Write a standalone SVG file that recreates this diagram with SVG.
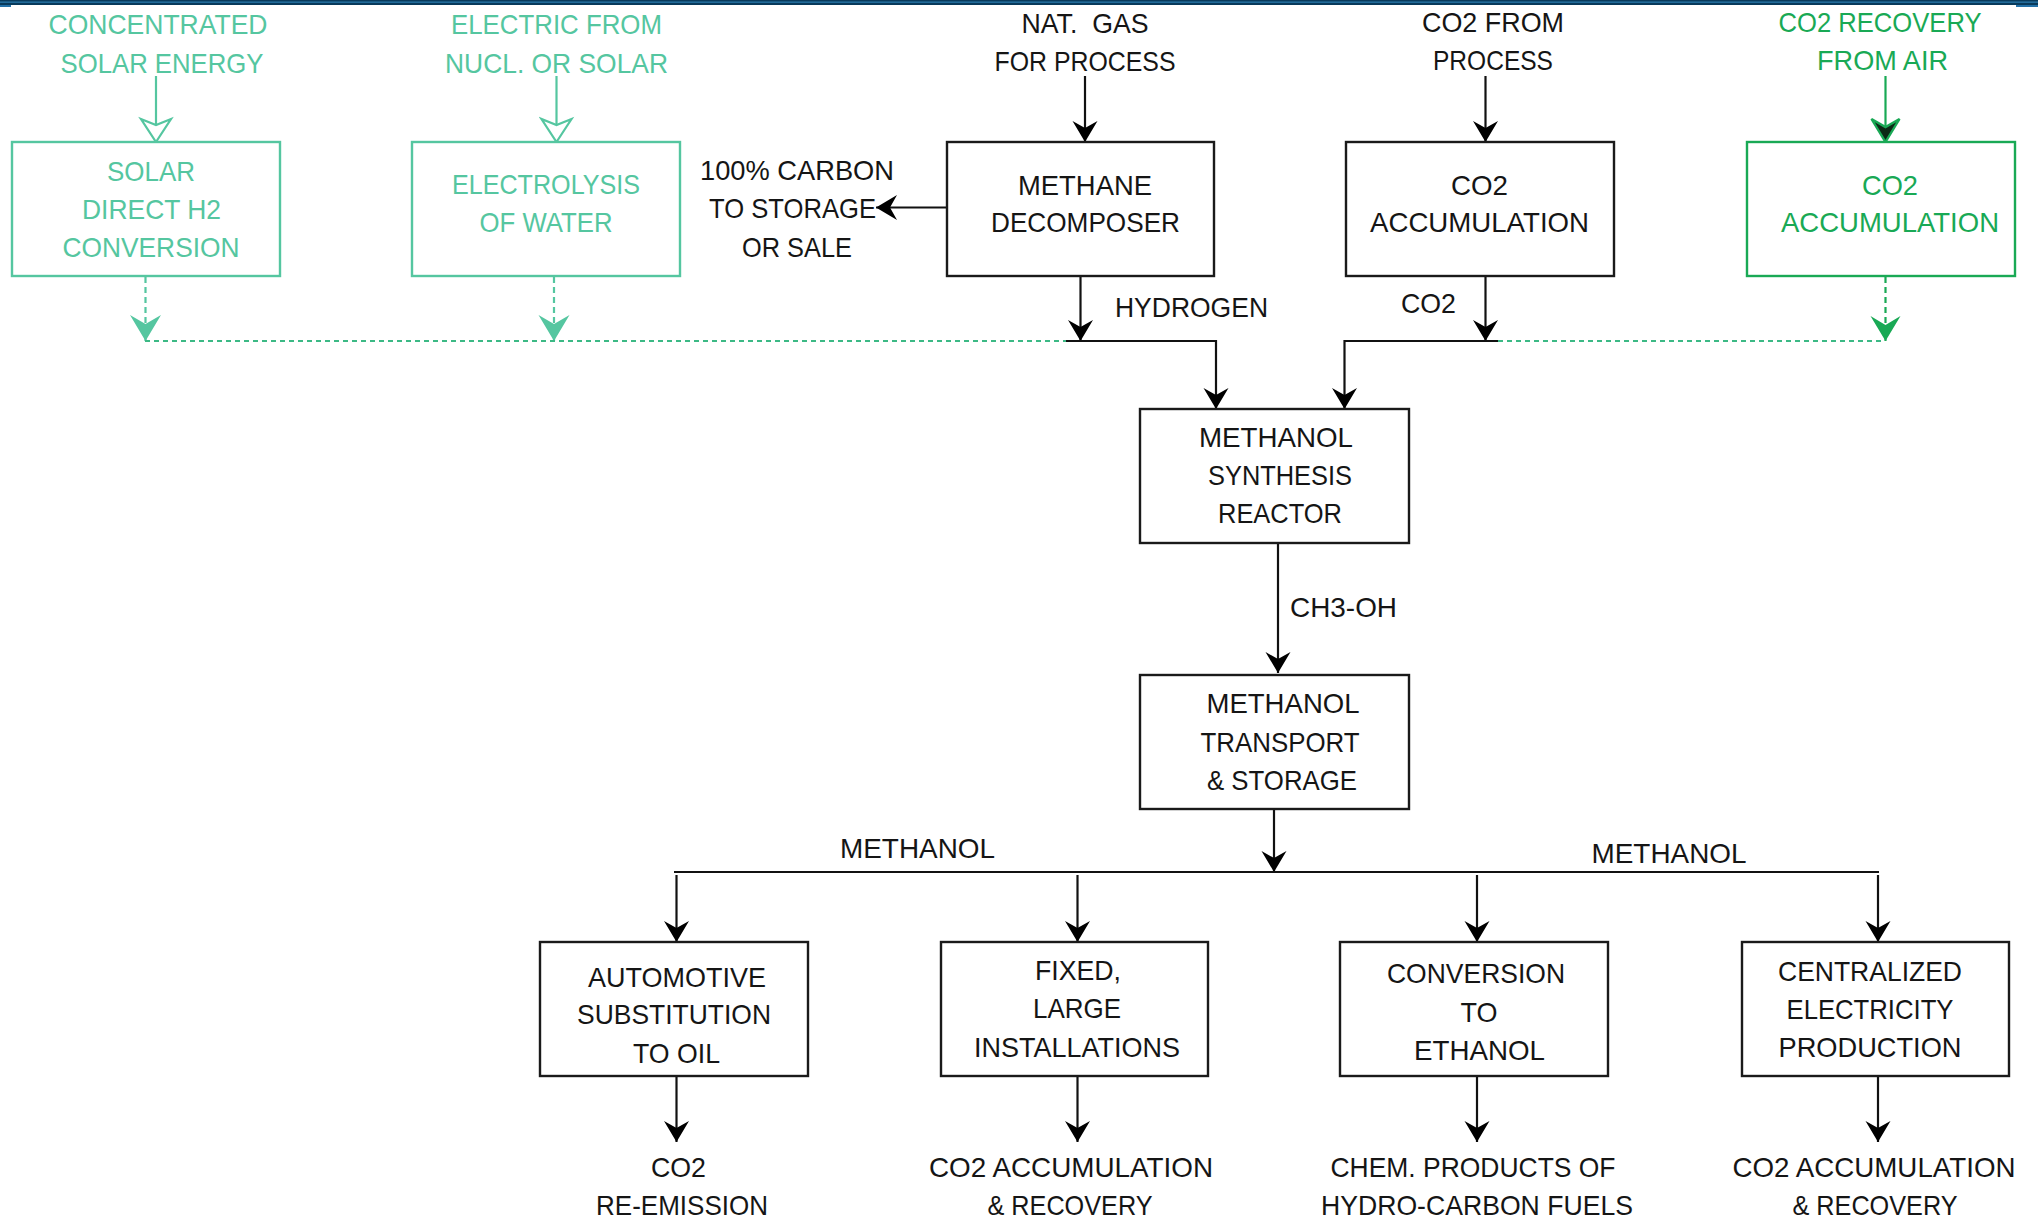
<svg xmlns="http://www.w3.org/2000/svg" width="2038" height="1220" viewBox="0 0 2038 1220">
<style>
.t{font-family:"Liberation Sans",Arial,sans-serif;font-size:28px;fill:#151515;text-anchor:middle}
.s{text-anchor:start}
.tt{fill:#55c6a0}
.tg{fill:#19a955}
.box{fill:#fff;stroke:#1a1a1a;stroke-width:2.4}
.bt{stroke:#55c6a0}
.bg{stroke:#19a955}
.ln{fill:none;stroke:#111;stroke-width:2.2}
.lt{stroke:#55c6a0}
.lg{stroke:#19a955}
.dot{stroke:#3cb985;stroke-dasharray:5 4}
.dsh{stroke-dasharray:6 4}
</style>
<defs>
<marker id="ah" viewBox="-22 -14 24 28" refX="0" refY="0" markerWidth="24" markerHeight="28" markerUnits="userSpaceOnUse" orient="auto">
<path d="M0,0 L-21,-12.5 L-14,0 L-21,12.5 Z" fill="#000"/>
</marker>
<marker id="ao" viewBox="-26 -18 28 36" refX="0" refY="0" markerWidth="28" markerHeight="36" markerUnits="userSpaceOnUse" orient="auto">
<path d="M0,0 L-23,-15 L-17,0 L-23,15 Z" fill="#fff" stroke="#55c6a0" stroke-width="2.2" stroke-linejoin="miter"/>
</marker>
<marker id="at" viewBox="-28 -18 30 36" refX="0" refY="0" markerWidth="30" markerHeight="36" markerUnits="userSpaceOnUse" orient="auto">
<path d="M0,0 L-26,-15.5 L-17,0 L-26,15.5 Z" fill="#55c6a0"/>
</marker>
<marker id="ag" viewBox="-28 -18 30 36" refX="0" refY="0" markerWidth="30" markerHeight="36" markerUnits="userSpaceOnUse" orient="auto">
<path d="M0,0 L-23,-14 L-15,0 L-23,14 Z" fill="#0c2a16" stroke="#19a955" stroke-width="2.4"/>
</marker>
<marker id="agf" viewBox="-28 -18 30 36" refX="0" refY="0" markerWidth="30" markerHeight="36" markerUnits="userSpaceOnUse" orient="auto">
<path d="M0,0 L-25,-15 L-16,0 L-25,15 Z" fill="#19a955"/>
</marker>
</defs>

<rect width="2038" height="1220" fill="#fff"/>
<g id="topband">
<rect x="0" y="0" width="2038" height="5" fill="#083a5b"/>
<rect x="0" y="1.5" width="2038" height="1.3" fill="#2a78aa"/>
<rect x="0" y="5" width="11" height="2" fill="#2371a8"/>
<rect x="2016" y="5" width="22" height="2" fill="#2371a8"/>
</g>

<g id="connectors">
<!-- teal inputs -->
<line class="ln lt" x1="156" y1="76" x2="156" y2="142" marker-end="url(#ao)"/>
<line class="ln lt" x1="556.5" y1="76" x2="556.5" y2="142" marker-end="url(#ao)"/>
<line class="ln lt dsh" x1="145.5" y1="277" x2="145.5" y2="341" marker-end="url(#at)"/>
<line class="ln lt dsh" x1="554" y1="277" x2="554" y2="341" marker-end="url(#at)"/>
<line class="ln dot" x1="145" y1="341" x2="1066" y2="341"/>
<!-- methane decomposer -->
<line class="ln" x1="1085" y1="76" x2="1085" y2="142" marker-end="url(#ah)"/>
<line class="ln" x1="947" y1="207.5" x2="876" y2="207.5" marker-end="url(#ah)"/>
<line class="ln" x1="1080.5" y1="276" x2="1080.5" y2="341" marker-end="url(#ah)"/>
<path class="ln" d="M1066,341 H1216 V409" marker-end="url(#ah)"/>
<!-- CO2 from process -->
<line class="ln" x1="1485.5" y1="76" x2="1485.5" y2="142" marker-end="url(#ah)"/>
<line class="ln" x1="1485.5" y1="276" x2="1485.5" y2="341" marker-end="url(#ah)"/>
<path class="ln" d="M1498,341 H1344.5 V409" marker-end="url(#ah)"/>
<!-- green air recovery -->
<line class="ln lg" x1="1885.5" y1="76" x2="1885.5" y2="142" marker-end="url(#ag)"/>
<line class="ln lg dsh" x1="1885.5" y1="277" x2="1885.5" y2="341" marker-end="url(#agf)"/>
<line class="ln dot" x1="1498" y1="341" x2="1885" y2="341"/>
<!-- methanol chain -->
<line class="ln" x1="1278" y1="543" x2="1278" y2="673" marker-end="url(#ah)"/>
<line class="ln" x1="1274" y1="809" x2="1274" y2="872" marker-end="url(#ah)"/>
<line class="ln" x1="674" y1="872" x2="1879" y2="872"/>
<line class="ln" x1="676.5" y1="875" x2="676.5" y2="942" marker-end="url(#ah)"/>
<line class="ln" x1="1077.5" y1="875" x2="1077.5" y2="942" marker-end="url(#ah)"/>
<line class="ln" x1="1477" y1="875" x2="1477" y2="942" marker-end="url(#ah)"/>
<line class="ln" x1="1878" y1="875" x2="1878" y2="942" marker-end="url(#ah)"/>
<line class="ln" x1="676.5" y1="1076" x2="676.5" y2="1142" marker-end="url(#ah)"/>
<line class="ln" x1="1077.5" y1="1076" x2="1077.5" y2="1142" marker-end="url(#ah)"/>
<line class="ln" x1="1477" y1="1076" x2="1477" y2="1142" marker-end="url(#ah)"/>
<line class="ln" x1="1878" y1="1076" x2="1878" y2="1142" marker-end="url(#ah)"/>
</g>

<g id="labels">
<text class="t tt" x="158" y="34" textLength="219" lengthAdjust="spacingAndGlyphs">CONCENTRATED</text>
<text class="t tt" x="162" y="73" textLength="203" lengthAdjust="spacingAndGlyphs">SOLAR ENERGY</text>
<text class="t tt" x="556.5" y="34" textLength="211" lengthAdjust="spacingAndGlyphs">ELECTRIC FROM</text>
<text class="t tt" x="556.5" y="73" textLength="223" lengthAdjust="spacingAndGlyphs">NUCL. OR SOLAR</text>
<text class="t" x="1085" y="33" textLength="127" lengthAdjust="spacingAndGlyphs" xml:space="preserve">NAT.  GAS</text>
<text class="t" x="1085" y="71" textLength="181" lengthAdjust="spacingAndGlyphs">FOR PROCESS</text>
<text class="t" x="797" y="180" textLength="194" lengthAdjust="spacingAndGlyphs">100% CARBON</text>
<text class="t" x="792.5" y="218" textLength="167" lengthAdjust="spacingAndGlyphs">TO STORAGE</text>
<text class="t" x="797" y="257" textLength="110" lengthAdjust="spacingAndGlyphs">OR SALE</text>
<text class="t s" x="1115" y="317" textLength="153" lengthAdjust="spacingAndGlyphs">HYDROGEN</text>
<text class="t" x="1493" y="32" textLength="142" lengthAdjust="spacingAndGlyphs">CO2 FROM</text>
<text class="t" x="1493" y="70" textLength="120" lengthAdjust="spacingAndGlyphs">PROCESS</text>
<text class="t s" x="1401" y="313" textLength="55" lengthAdjust="spacingAndGlyphs">CO2</text>
<text class="t tg" x="1880" y="32" textLength="203" lengthAdjust="spacingAndGlyphs">CO2 RECOVERY</text>
<text class="t tg" x="1882.5" y="70" textLength="131" lengthAdjust="spacingAndGlyphs">FROM AIR</text>
<text class="t s" x="1290" y="617" textLength="107" lengthAdjust="spacingAndGlyphs">CH3-OH</text>
<text class="t" x="917.5" y="858" textLength="155" lengthAdjust="spacingAndGlyphs">METHANOL</text>
<text class="t" x="1669" y="863" textLength="155" lengthAdjust="spacingAndGlyphs">METHANOL</text>
<text class="t" x="678.5" y="1177" textLength="55" lengthAdjust="spacingAndGlyphs">CO2</text>
<text class="t" x="682" y="1215" textLength="172" lengthAdjust="spacingAndGlyphs">RE-EMISSION</text>
<text class="t" x="1071" y="1177" textLength="284" lengthAdjust="spacingAndGlyphs">CO2 ACCUMULATION</text>
<text class="t" x="1070" y="1215" textLength="165" lengthAdjust="spacingAndGlyphs">&amp; RECOVERY</text>
<text class="t" x="1473" y="1177" textLength="285" lengthAdjust="spacingAndGlyphs">CHEM. PRODUCTS OF</text>
<text class="t" x="1477" y="1215" textLength="312" lengthAdjust="spacingAndGlyphs">HYDRO-CARBON FUELS</text>
<text class="t" x="1874" y="1177" textLength="283" lengthAdjust="spacingAndGlyphs">CO2 ACCUMULATION</text>
<text class="t" x="1875" y="1215" textLength="165" lengthAdjust="spacingAndGlyphs">&amp; RECOVERY</text>
</g>

<g id="node-solar-h2">
<rect class="box bt" x="12" y="142" width="268" height="134"/>
<text class="t tt" x="151" y="181" textLength="88" lengthAdjust="spacingAndGlyphs">SOLAR</text>
<text class="t tt" x="151.5" y="219" textLength="139" lengthAdjust="spacingAndGlyphs">DIRECT H2</text>
<text class="t tt" x="151" y="257" textLength="177" lengthAdjust="spacingAndGlyphs">CONVERSION</text>
</g>
<g id="node-electrolysis">
<rect class="box bt" x="412" y="142" width="268" height="134"/>
<text class="t tt" x="546" y="194" textLength="188" lengthAdjust="spacingAndGlyphs">ELECTROLYSIS</text>
<text class="t tt" x="546" y="232" textLength="133" lengthAdjust="spacingAndGlyphs">OF WATER</text>
</g>
<g id="node-methane-decomposer">
<rect class="box" x="947" y="142" width="267" height="134"/>
<text class="t" x="1085" y="195" textLength="134" lengthAdjust="spacingAndGlyphs">METHANE</text>
<text class="t" x="1085.5" y="232" textLength="189" lengthAdjust="spacingAndGlyphs">DECOMPOSER</text>
</g>
<g id="node-co2-accumulation">
<rect class="box" x="1346" y="142" width="268" height="134"/>
<text class="t" x="1479.5" y="195" textLength="57" lengthAdjust="spacingAndGlyphs">CO2</text>
<text class="t" x="1479.5" y="232" textLength="219" lengthAdjust="spacingAndGlyphs">ACCUMULATION</text>
</g>
<g id="node-co2-accumulation-air">
<rect class="box bg" x="1747" y="142" width="268" height="134"/>
<text class="t tg" x="1890" y="195" textLength="56" lengthAdjust="spacingAndGlyphs">CO2</text>
<text class="t tg" x="1890" y="232" textLength="218" lengthAdjust="spacingAndGlyphs">ACCUMULATION</text>
</g>
<g id="node-synthesis">
<rect class="box" x="1140" y="409" width="269" height="134"/>
<text class="t" x="1276" y="447" textLength="154" lengthAdjust="spacingAndGlyphs">METHANOL</text>
<text class="t" x="1280" y="485" textLength="144" lengthAdjust="spacingAndGlyphs">SYNTHESIS</text>
<text class="t" x="1280" y="523" textLength="124" lengthAdjust="spacingAndGlyphs">REACTOR</text>
</g>
<g id="node-transport">
<rect class="box" x="1140" y="675" width="269" height="134"/>
<text class="t" x="1283" y="713" textLength="153" lengthAdjust="spacingAndGlyphs">METHANOL</text>
<text class="t" x="1280" y="752" textLength="159" lengthAdjust="spacingAndGlyphs">TRANSPORT</text>
<text class="t" x="1282" y="790" textLength="150" lengthAdjust="spacingAndGlyphs">&amp; STORAGE</text>
</g>
<g id="node-automotive">
<rect class="box" x="540" y="942" width="268" height="134"/>
<text class="t" x="677" y="987" textLength="178" lengthAdjust="spacingAndGlyphs">AUTOMOTIVE</text>
<text class="t" x="674" y="1024" textLength="194" lengthAdjust="spacingAndGlyphs">SUBSTITUTION</text>
<text class="t" x="676.5" y="1063" textLength="87" lengthAdjust="spacingAndGlyphs">TO OIL</text>
</g>
<g id="node-fixed">
<rect class="box" x="941" y="942" width="267" height="134"/>
<text class="t" x="1078" y="980" textLength="86" lengthAdjust="spacingAndGlyphs">FIXED,</text>
<text class="t" x="1077" y="1018" textLength="88" lengthAdjust="spacingAndGlyphs">LARGE</text>
<text class="t" x="1077" y="1057" textLength="206" lengthAdjust="spacingAndGlyphs">INSTALLATIONS</text>
</g>
<g id="node-ethanol">
<rect class="box" x="1340" y="942" width="268" height="134"/>
<text class="t" x="1476" y="983" textLength="178" lengthAdjust="spacingAndGlyphs">CONVERSION</text>
<text class="t" x="1479" y="1022" textLength="37" lengthAdjust="spacingAndGlyphs">TO</text>
<text class="t" x="1479.5" y="1060" textLength="131" lengthAdjust="spacingAndGlyphs">ETHANOL</text>
</g>
<g id="node-electricity">
<rect class="box" x="1742" y="942" width="267" height="134"/>
<text class="t" x="1870" y="981" textLength="184" lengthAdjust="spacingAndGlyphs">CENTRALIZED</text>
<text class="t" x="1870" y="1019" textLength="167" lengthAdjust="spacingAndGlyphs">ELECTRICITY</text>
<text class="t" x="1870" y="1057" textLength="183" lengthAdjust="spacingAndGlyphs">PRODUCTION</text>
</g>
</svg>
